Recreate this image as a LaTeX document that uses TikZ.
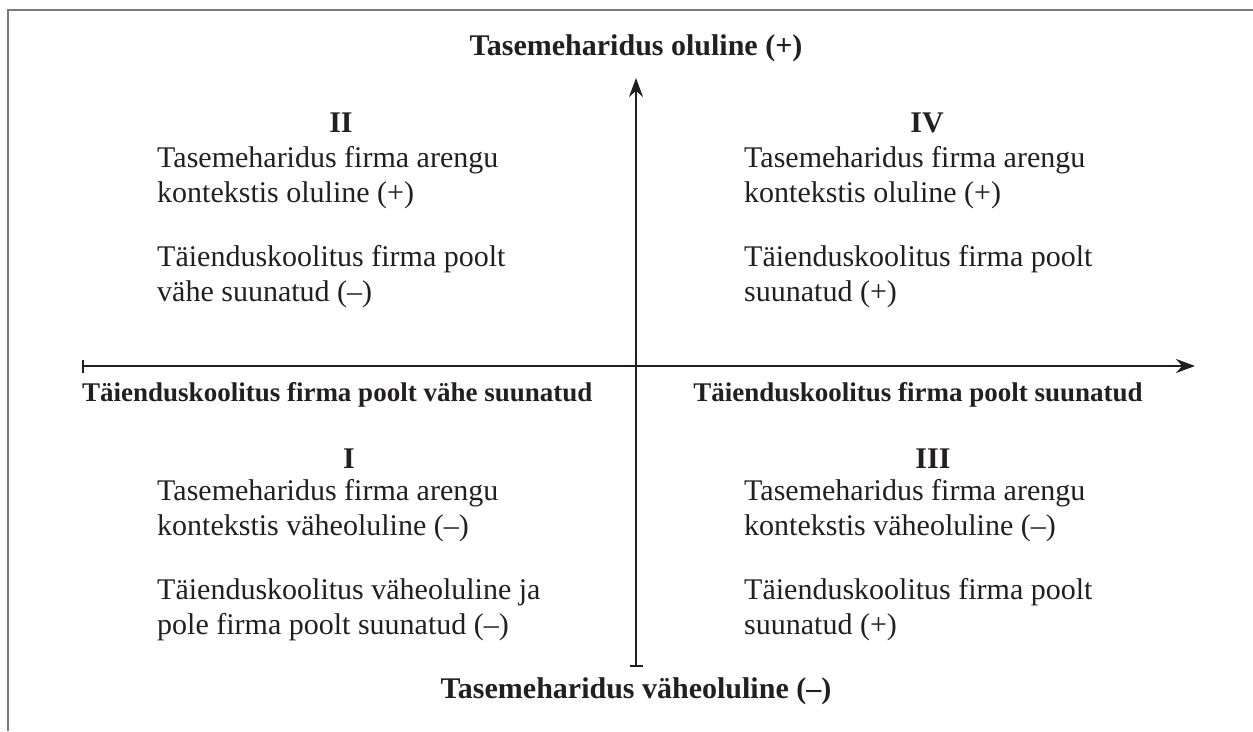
\documentclass[tikz,border=0pt]{standalone}
\usepackage{fontspec}
\setmainfont{Liberation Serif}
\usetikzlibrary{arrows.meta}
\definecolor{frame}{HTML}{7A7A7A}
\definecolor{ink}{HTML}{231F20}
\tikzset{
  axis/.style={line width=2.4pt, draw=ink},
  ln/.style={font=\fontsize{30}{34}\selectfont, text=ink, anchor=base west, inner sep=0pt},
  numeral/.style={font=\fontsize{30}{34}\selectfont\bfseries, text=ink, anchor=base, inner sep=0pt},
  axlabel/.style={font=\fontsize{30}{34}\selectfont\bfseries, text=ink, anchor=base, inner sep=0pt},
  sidelabel/.style={font=\fontsize{27}{34}\selectfont\bfseries, text=ink, anchor=base, inner sep=0pt},
}
\begin{document}
\begin{tikzpicture}[x=1pt,y=-1pt]
\useasboundingbox (0,0) rectangle (1253,731);
\draw[frame, line width=2pt] (8,731) -- (8,10) -- (1253,10);
% axes
\coordinate (vtop) at (636,78);
\coordinate (vbot) at (636,667);
\coordinate (hleft) at (82,366);
\coordinate (hright) at (1195,366);
\draw[axis, {Bar[width=13pt]}-{Stealth[length=19pt,width=14pt]}] (vbot) -- (vtop);
\draw[axis, {Bar[width=13pt]}-{Stealth[length=19pt,width=14pt]}] (hleft) -- (hright);
% axis labels
\node[axlabel] (ltop) at (636,55) {Tasemeharidus oluline (+)};
\node[axlabel] (lbot) at (636,698) {Tasemeharidus väheoluline (–)};
\node[sidelabel, anchor=base west] (lleft) at (82,401) {Täienduskoolitus firma poolt vähe suunatud};
\node[sidelabel] (lright) at (918,401) {Täienduskoolitus firma poolt suunatud};
% quadrant II
\node[numeral] (nII) at (341,132) {II};
\node[ln] (a1) at (157,167) {Tasemeharidus firma arengu};
\node[ln] (a2) at (157,202) {kontekstis oluline (+)};
\node[ln] (a3) at (157,266) {Täienduskoolitus firma poolt};
\node[ln] (a4) at (157,301) {vähe suunatud (–)};
% quadrant IV
\node[numeral] (nIV) at (927,132) {IV};
\node[ln] (b1) at (744,167) {Tasemeharidus firma arengu};
\node[ln] (b2) at (744,202) {kontekstis oluline (+)};
\node[ln] (b3) at (744,266) {Täienduskoolitus firma poolt};
\node[ln] (b4) at (744,301) {suunatud (+)};
% quadrant I
\node[numeral] (nI) at (349,468) {I};
\node[ln] (c1) at (157,500) {Tasemeharidus firma arengu};
\node[ln] (c2) at (157,535) {kontekstis väheoluline (–)};
\node[ln] (c3) at (157,599) {Täienduskoolitus väheoluline ja};
\node[ln] (c4) at (157,634) {pole firma poolt suunatud (–)};
% quadrant III
\node[numeral] (nIII) at (933,468) {III};
\node[ln] (d1) at (744,500) {Tasemeharidus firma arengu};
\node[ln] (d2) at (744,535) {kontekstis väheoluline (–)};
\node[ln] (d3) at (744,599) {Täienduskoolitus firma poolt};
\node[ln] (d4) at (744,634) {suunatud (+)};
\end{tikzpicture}
\end{document}
